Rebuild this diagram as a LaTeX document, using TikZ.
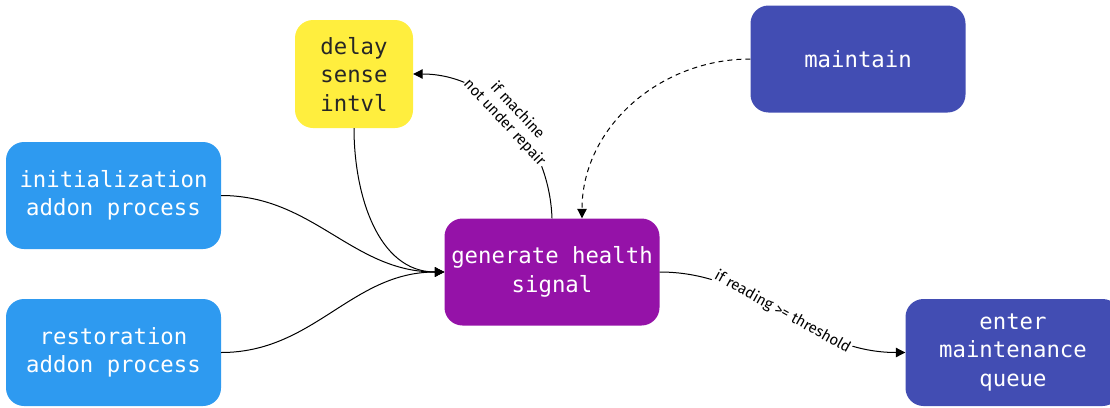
\documentclass[tikz,border=0pt]{standalone}
\usepackage{fontspec}
\setmainfont{Fira Sans}
\setmonofont{DejaVu Sans Mono}
\usetikzlibrary{arrows.meta}
\definecolor{procblue}{HTML}{2E9AF0}
\definecolor{stepindigo}{HTML}{424DB3}
\definecolor{genpurple}{HTML}{9512A8}
\definecolor{delayyellow}{HTML}{FFEE3E}
\begin{document}
\begin{tikzpicture}[x=1pt,y=1pt,
  box/.style={rounded corners=18pt, minimum width=215pt, minimum height=107pt,
    inner sep=0pt, align=center, text=white,
    font=\ttfamily\fontsize{22.3}{28.5}\selectfont},
  link/.style={draw=black, line width=1pt, -{Triangle[length=9.5pt,width=9.5pt]}},
  cond/.style={font=\fontsize{15}{17.5}\selectfont, fill=white, inner sep=1pt,
    sloped, align=center}]
\useasboundingbox (0,0) rectangle (1110,-407);

% process steps
\node[box, fill=delayyellow, text=black!85, minimum width=118pt, minimum height=108pt]
  (delay) at (354,-74) {delay\\sense\\intvl};
\node[box, fill=stepindigo] (maintain) at (858,-59) {maintain};
\node[box, fill=procblue] (init) at (113.5,-195.5) {initialization\\addon process};
\node[box, fill=procblue] (restore) at (113.5,-352.5) {restoration\\addon process};
\node[box, fill=genpurple] (gen) at (552,-272) {generate health\\signal};
\node[box, fill=stepindigo] (enter) at (1013,-352.5) {enter\\maintenance\\queue};

% flows into the health signal generator
\draw[link] (init.east) to[out=0,in=180] (gen.west);
\draw[link] (restore.east) to[out=0,in=180] (gen.west);
\draw[link] (delay.south) to[out=-90,in=180] (gen.west);
\draw[link, dash pattern=on 5pt off 4pt] (maintain.west) to[out=180,in=90] ([xshift=30pt]gen.north);

% outgoing conditional flows
\draw[link] (gen.north) to[out=92,in=0]
  node[cond] {if machine\\not under repair} (delay.east);
\draw[link] (gen.east) to[out=0,in=180]
  node[cond] {if reading >= threshold} (enter.west);
\end{tikzpicture}
\end{document}
